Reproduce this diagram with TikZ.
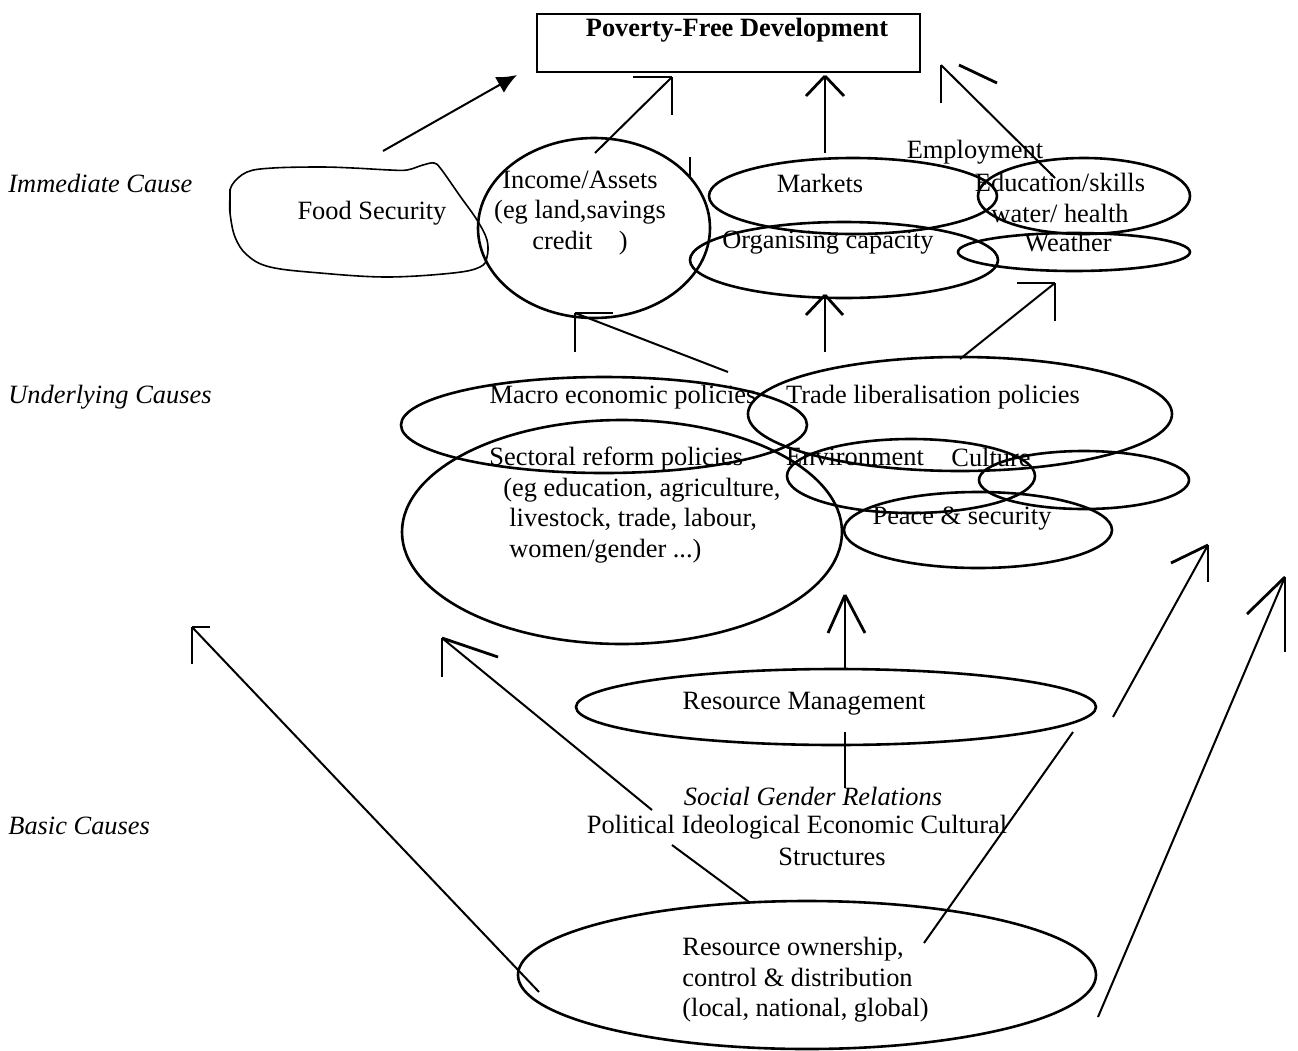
\documentclass[tikz,border=0pt]{standalone}
\usepackage{fontspec}
\setmainfont{Liberation Serif}
\usetikzlibrary{shapes.geometric,arrows.meta}

\begin{document}
\begin{tikzpicture}
  [x=0.5pt,y=-0.5pt,
   every node/.style={inner sep=1pt,font=\fontsize{13.2}{15.25}\selectfont},
   oval/.style={draw,ellipse,inner sep=0pt,line width=1.3pt},
   goalbox/.style={draw,rectangle,inner sep=0pt,line width=1.3pt},
   link/.style={line width=1pt},
   barb/.style={line width=1.4pt},
   level/.style={anchor=west,font=\fontsize{13.2}{15.25}\selectfont\itshape}]
  \useasboundingbox (0,0) rectangle (1298,1051);

  % levels
  \node[level] (lvl1) at (6,183) {Immediate Cause};
  \node[level] (lvl2) at (6,397) {Underlying Causes};
  \node[level] (lvl3) at (6,826) {Basic Causes};

  % goal
  \node[goalbox,minimum width=191.5pt,minimum height=29pt] (goal) at (728.5,43) {};
  \node (goaltxt) at (737,30) {\textbf{Poverty-Free Development}};

  % immediate causes
  \draw[line width=0.8pt] plot[smooth cycle,tension=0.6] coordinates {
    (232,185) (247,172) (273,168) (320,167) (353,168) (390,170) (407,170)
    (423,165) (434,163) (441,169) (460,196) (477,220) (487,240) (487,257)
    (480,267) (453,273) (387,277) (320,273) (270,267) (247,255) (235,237)
    (230,213) (230,198)};
  \draw[line width=0.8pt] (230,189) -- (230,212);
  \node (fs) at (372,213) {Food Security};
  \node[oval,minimum width=116pt,minimum height=90pt] (inc) at (594,228) {};
  \node[align=center] (inctxt) at (580,213) {Income/Assets\\(eg land,savings\\credit\quad)};
  \node[oval,minimum width=144pt,minimum height=38pt] (mkt) at (853,196) {};
  \node[oval,minimum width=106pt,minimum height=38pt] (edu) at (1084,196) {};
  \node[oval,minimum width=154pt,minimum height=38pt] (org) at (844,260) {};
  \node[oval,minimum width=116pt,minimum height=19pt] (wea) at (1074,252) {};
  \node (mkttxt) at (820,183) {Markets};
  \node (emp) at (975,152) {Employment};
  \node[align=center] (edutxt) at (1060,198) {Education/skills\\water/ health};
  \node (orgtxt) at (828,243) {Organising capacity};
  \node (weatxt) at (1068,243) {Weather};

  % underlying causes
  \node[oval,minimum width=203pt,minimum height=48pt] (mac) at (604,425) {};
  \node[oval,minimum width=212pt,minimum height=57pt] (trd) at (960,414) {};
  \node[oval,minimum width=220pt,minimum height=112pt] (sec) at (622,532) {};
  \node[oval,minimum width=124pt,minimum height=37pt] (env) at (911,476) {};
  \node[oval,minimum width=105pt,minimum height=29pt] (cul) at (1084,480) {};
  \node[oval,minimum width=134pt,minimum height=38pt] (pea) at (978,530) {};
  \node (mactxt) at (623,397) {Macro economic policies};
  \node (trdtxt) at (933,397) {Trade liberalisation policies};
  \node[align=left,anchor=west] (sectxt) at (487,505) {Sectoral reform policies\\
    \hspace*{7pt}(eg education, agriculture,\\
    \hspace*{10pt}livestock, trade, labour,\\
    \hspace*{10pt}women/gender ...)};
  \node (envtxt) at (855,457) {Environment};
  \node (cultxt) at (991,457) {Culture};
  \node (peatxt) at (962,519) {Peace \& security};

  % basic causes
  \node[oval,minimum width=260pt,minimum height=38pt] (rm) at (836,707) {};
  \node (rmtxt) at (804,704) {Resource Management};
  \node[font=\fontsize{13.2}{15.25}\selectfont\itshape] (soc) at (813,796) {Social Gender Relations};
  \node (pol) at (797,827) {Political Ideological Economic Cultural};
  \node (str) at (832,857) {Structures};
  \node[oval,minimum width=289pt,minimum height=74pt] (own) at (807,975) {};
  \node[align=left,anchor=west] (owntxt) at (680,980) {Resource ownership,\\control \& distribution\\(local, national, global)};

  % connector ends
  \coordinate (fs-out) at (383,151);    \coordinate (goal-fs) at (517,75);
  \coordinate (inc-out) at (595,153);   \coordinate (goal-inc) at (672,77);
  \coordinate (mkt-out) at (825,153);   \coordinate (goal-mkt) at (825,76);
  \coordinate (edu-out) at (1055,178);  \coordinate (goal-edu) at (941,65);
  \coordinate (mac-out) at (728,372);   \coordinate (inc-in) at (575,313);
  \coordinate (org-up) at (825,352);    \coordinate (org-in) at (825,295);
  \coordinate (trd-out) at (960,359);   \coordinate (wea-in) at (1055,283);
  \coordinate (rm-out) at (845,670);    \coordinate (sec-in) at (845,595);
  \coordinate (rm-down) at (845,732);   \coordinate (soc-top) at (845,788);
  \coordinate (own-left) at (539,992);  \coordinate (far-left) at (192,627);
  \coordinate (own-top) at (749,902);   \coordinate (str-low) at (672,845);
  \coordinate (str-up) at (652,810);    \coordinate (sec-low) at (442,638);
  \coordinate (own-right) at (924,943); \coordinate (rm-right) at (1073,732);
  \coordinate (rm-east) at (1113,717);  \coordinate (pea-right) at (1208,545);
  \coordinate (own-east) at (1098,1017); \coordinate (far-right) at (1285,577);

  \draw[link,-{Latex[length=10pt,width=9pt]}] (fs-out) -- (goal-fs);
  \foreach \from/\to in {inc-out/goal-inc,mkt-out/goal-mkt,edu-out/goal-edu,
      mac-out/inc-in,org-up/org-in,trd-out/wea-in,rm-out/sec-in,rm-down/soc-top,
      own-left/far-left,own-top/str-low,str-up/sec-low,own-right/rm-right,
      rm-east/pea-right,own-east/far-right}
    \draw[link] (\from) -- (\to);

  % arrow heads
  \foreach \tip/\dx/\dy in {goal-inc/-39/0,goal-inc/0/38,goal-mkt/-19/20,goal-mkt/19/20,
      goal-edu/0/38,inc-in/38/0,inc-in/0/39,org-in/-19/20,org-in/18/20,
      wea-in/-38/0,wea-in/0/38,sec-in/-17/38,sec-in/20/38,far-left/18/0,far-left/0/37,
      sec-low/56/19,sec-low/0/39,pea-right/-37/18,pea-right/0/37,
      far-right/-38/37,far-right/0/75}
    \draw[barb] (\tip) -- ++(\dx,\dy);
  \draw[barb] (959,65) -- (997,83);
  \draw[barb] (690,157) -- (690,177);
\end{tikzpicture}
\end{document}
